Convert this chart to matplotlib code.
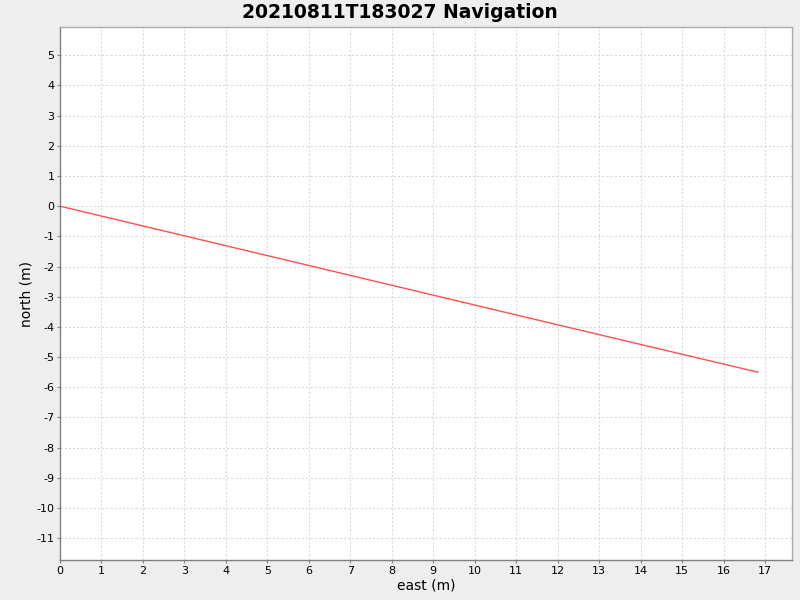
import matplotlib
matplotlib.use('Agg')
from matplotlib import pyplot as plt

plt.rcParams['axes.unicode_minus'] = False

# Track (metres).
east = [0.0, 4.0, 8.0, 12.0, 16.83]
north = [0.0, -1.31, -2.62, -3.93, -5.5]

x_ticks = list(range(0, 18))
y_ticks = list(range(-11, 6))

fig = plt.figure(figsize=(8, 6), dpi=100, facecolor='#eeeeee')
ax = fig.add_axes([0.075, 0.0667, 0.915, 0.888])
ax.set_facecolor('white')

ax.plot(east, north, color='#ff5050', linewidth=1.0)

ax.set_xlim(0, 17.65)
ax.set_ylim(-11.72, 5.93)
ax.set_xticks(x_ticks)
ax.set_yticks(y_ticks)
ax.grid(True, color='#d8d8d8', linestyle=(0, (2, 2)), linewidth=0.75)
ax.set_axisbelow(True)

for side in ['top', 'right']:
    ax.spines[side].set_color('#aaaaaa')
    ax.spines[side].set_linewidth(1.0)
for side in ['left', 'bottom']:
    ax.spines[side].set_color('#808080')
    ax.spines[side].set_linewidth(1.0)

ax.tick_params(axis='both', labelsize=8, length=2, color='#808080', pad=2)
ax.set_xlabel('east (m)', fontsize=10, labelpad=2)
ax.set_ylabel('north (m)', fontsize=10)
ax.yaxis.set_label_coords(-0.036, 0.5)
fig.suptitle('20210811T183027 Navigation', fontsize=13.5, fontweight='bold', y=0.995)

fig.savefig('out.png', dpi=100, facecolor=fig.get_facecolor())
